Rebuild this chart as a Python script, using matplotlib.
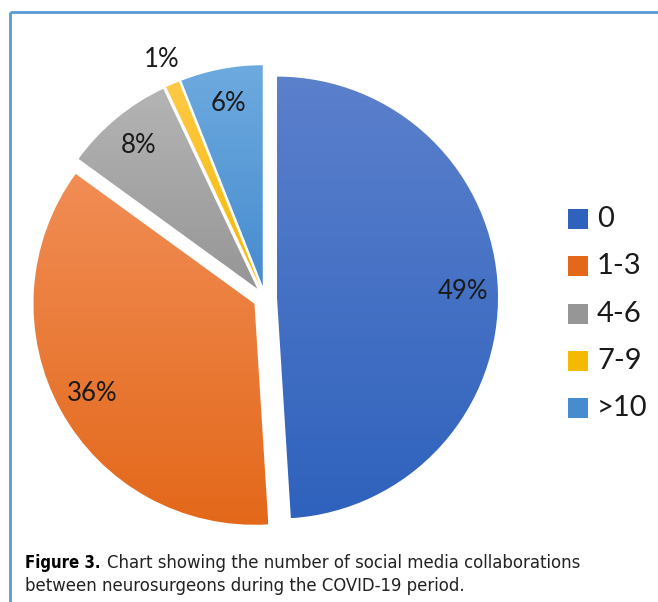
import matplotlib.pyplot as plt
import numpy as np
from matplotlib.colors import LinearSegmentedColormap
from matplotlib.patches import Rectangle

# collaborations per neurosurgeon during COVID-19 (percent of respondents)
categories = ["0", "1-3", "4-6", "7-9", ">10"]
shares = [49, 36, 8, 1, 6]
# top / bottom colours of each wedge's vertical gradient
top_colors = ["#5B80CC", "#F18D55", "#B4B4B4", "#FFC947", "#6DAADF"]
bottom_colors = ["#2F62BD", "#E3681A", "#969696", "#F4BA00", "#478CCF"]
caption_bold = "Figure 3."
caption = ("Chart showing the number of social media collaborations\n"
           "between neurosurgeons during the COVID-19 period.")

W, H = 658, 602
fig = plt.figure(figsize=(W / 100, H / 100), dpi=100)
ax = fig.add_axes([0, 0, 1, 1])

# frame lines along the top and left
ax.plot([10, W], [H - 12, H - 12], color="#5B9BD5", lw=2, solid_capstyle="butt")
ax.plot([10, 10], [H - 12, 0], color="#5B9BD5", lw=2, solid_capstyle="butt")

R = 221
center = (265, H - 298)
wedges, _ = ax.pie(shares, startangle=90, counterclock=False, radius=R,
                   center=center, explode=[12] * len(shares),
                   wedgeprops=dict(linewidth=0), frame=False)

grad = np.linspace(0, 1, 256).reshape(-1, 1)
for w, c0, c1, v in zip(wedges, top_colors, bottom_colors, shares):
    w.set_facecolor("none")
    ext = w.get_path().get_extents(w.get_patch_transform())
    cmap = LinearSegmentedColormap.from_list("g", [c0, c1])
    im = ax.imshow(grad, cmap=cmap, aspect="auto", origin="upper",
                   extent=[ext.x0, ext.x1, ext.y0, ext.y1], zorder=1)
    im.set_clip_path(w)

    # percentage labels sit inside the wedge, small slices get theirs outside
    mid = np.deg2rad((w.theta1 + w.theta2) / 2)
    d = 0.84 * R if v >= 5 else 1.12 * R
    tx = w.center[0] + d * np.cos(mid)
    ty = w.center[1] + d * np.sin(mid)
    ax.text(tx, ty, f"{v}%", ha="center", va="center", fontsize=18.5,
            family="Lato", color="#1a1a1a", zorder=3)

ax.set_xlim(0, W)
ax.set_ylim(0, H)
ax.set_aspect("equal")
ax.axis("off")

# legend
for i, (lab, c0, c1) in enumerate(zip(categories, top_colors, bottom_colors)):
    yc = H - (219 + i * 47.3)
    ax.add_patch(Rectangle((568, yc - 10), 20, 20, facecolor=c1, lw=0, zorder=3))
    ax.text(597, yc, lab, ha="left", va="center", fontsize=21,
            family="Lato", color="#1a1a1a")

# caption
cap_font = dict(family="DejaVu Sans", fontstretch="condensed")
fig.text(25 / W, 1 - 563 / H, caption_bold, ha="left", va="center",
         fontweight="bold", fontsize=12, **cap_font)
fig.text(107 / W, 1 - 563 / H, caption.split("\n")[0], ha="left", va="center",
         color="#222222", fontsize=13.2, **cap_font)
fig.text(25 / W, 1 - 586 / H, caption.split("\n")[1], ha="left", va="center",
         color="#222222", fontsize=13.2, **cap_font)

fig.savefig("out.png", dpi=100, facecolor="white")
